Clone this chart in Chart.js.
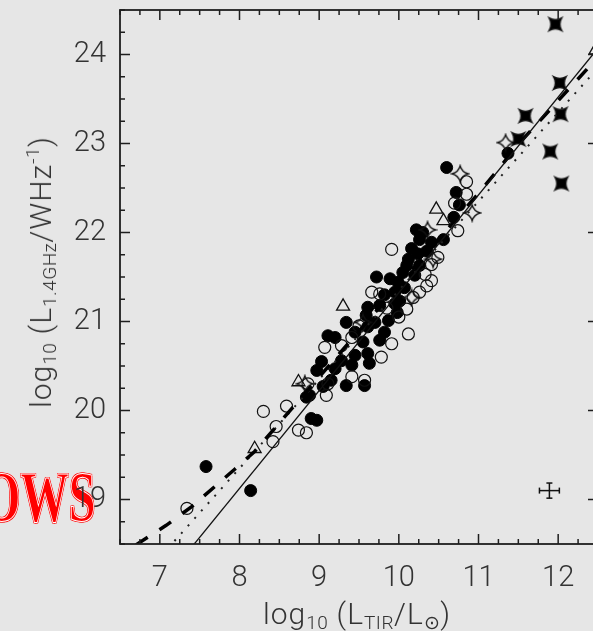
<!DOCTYPE html>
<html>
<head>
<meta charset="utf-8">
<script src="https://cdn.jsdelivr.net/npm/chart.js@4.4.1/dist/chart.umd.min.js"></script>
<style>
  body { margin: 0; background: #e6e6e6; overflow: hidden; }
  #wrap { position: relative; width: 593px; height: 631px; overflow: hidden; }
  #wm {
    position: absolute; left: -17px; top: 461px; z-index: 0;
    font: bold 72px "Liberation Serif", serif; line-height: 72px;
    color: #ff0000; white-space: nowrap;
    transform: scaleX(0.67); transform-origin: left top;
    -webkit-text-stroke: 1px #fff;
    text-shadow: 1px 1px 0 #f00, -1px -1px 0 #f00, 1px -1px 0 #f00, -1px 1px 0 #f00;
  }
  #c { position: absolute; left: 0; top: 0; z-index: 1; }
  .title {
    position: absolute; white-space: nowrap; color: #333; z-index: 2;
    font-family: Roboto, "DejaVu Sans", sans-serif; font-weight: 300;
    font-size: 30px; line-height: 32px; letter-spacing: 1px;
  }
  .title sub, .title sup { font-size: 19px; line-height: 0; letter-spacing: 0.5px; }
  .title sub { vertical-align: -5px; }
  .title sup { vertical-align: 12px; }
  #ytitle { left: 41px; top: 272px; transform: translate(-50%, -50%) rotate(-90deg); }
  #xtitle { left: 357px; top: 614px; transform: translate(-50%, -50%); }
</style>
</head>
<body>
<div id="wrap">
  <div id="wm">OWS</div>
  <canvas id="c" width="640" height="631" style="width:640px;height:631px"></canvas>
  <div class="title" id="ytitle">log<sub>10</sub> (L<sub>1.4GHz</sub>/WHz<sup>-1</sup>)</div>
  <div class="title" id="xtitle">log<sub>10</sub> (L<sub>TIR</sub>/L<sub>⊙</sub>)</div>
</div>
<script>
var xTicks = [7, 8, 9, 10, 11, 12];
var yTicks = [19, 20, 21, 22, 23, 24];
var xRange = [6.5, 12.5];
var yRange = [18.5, 24.5];

var filledCircles = [
  [7.58, 19.37], [8.14, 19.10],
  [8.84, 20.15], [8.90, 19.91], [8.97, 19.89], [8.88, 20.17],
  [8.97, 20.45], [9.03, 20.55], [9.05, 20.27], [9.15, 20.34], [9.11, 20.84], [9.20, 20.82],
  [9.28, 20.56], [9.34, 20.28], [9.41, 20.51], [9.45, 20.88], [9.34, 20.99], [9.55, 20.77],
  [9.57, 20.28], [9.61, 20.64], [9.63, 20.53], [9.61, 20.94], [9.59, 21.07], [9.61, 21.16],
  [9.70, 20.99], [9.76, 20.79], [9.76, 21.18], [9.82, 20.88], [9.87, 21.01], [9.72, 21.50],
  [9.89, 21.48], [9.95, 21.33], [9.99, 21.44], [10.01, 21.23], [9.95, 21.20], [10.07, 21.38],
  [10.10, 21.63], [10.12, 21.70], [10.24, 21.76], [10.26, 21.63], [10.35, 21.79], [10.26, 21.92],
  [10.22, 22.03], [10.41, 21.89], [10.56, 21.92], [10.69, 22.17], [10.76, 22.31], [10.72, 22.45],
  [10.60, 22.73], [11.37, 22.89],
  [9.45, 20.62], [9.20, 20.47], [9.98, 21.10], [10.05, 21.55], [10.16, 21.82], [10.30, 22.00],
  [10.20, 21.52], [9.82, 21.30]
];

var openCircles = [
  [7.34, 18.90], [8.30, 19.99], [8.59, 20.05], [8.46, 19.82], [8.42, 19.65], [8.74, 19.78],
  [8.84, 19.75], [8.86, 20.30], [9.07, 20.71], [9.28, 20.73], [9.09, 20.17], [9.11, 20.30],
  [9.41, 20.82], [9.41, 20.38], [9.57, 20.34], [9.66, 21.33], [9.76, 21.31], [9.78, 20.60],
  [9.91, 20.75], [9.91, 21.81], [10.12, 20.86], [10.10, 21.14], [10.18, 21.27], [10.26, 21.33],
  [10.33, 21.53], [10.41, 21.64], [10.49, 21.72], [10.41, 21.46], [10.74, 22.02], [10.70, 22.33],
  [10.85, 22.43], [10.85, 22.57], [9.50, 20.95], [9.85, 21.15], [10.00, 21.05], [10.35, 21.40]
];

var openTriangles = [
  [10.47, 22.26], [10.56, 22.13], [9.30, 21.17], [8.74, 20.32], [8.19, 19.57], [12.47, 24.05]
];

var openStars = [
  [11.34, 23.01], [10.77, 22.66], [10.92, 22.22], [10.36, 22.03], [10.43, 21.70],
  [10.16, 21.27], [9.55, 20.99], [8.82, 20.30]
];

var filledStars = [
  [11.965, 24.34], [12.02, 23.68], [11.59, 23.31], [12.03, 23.33], [11.50, 23.05],
  [11.90, 22.91], [12.04, 22.55]
];

var solidLine = [[7.35, 18.41], [12.5, 24.07]];
var dashedCurve = [
  [6.70, 18.49], [7.08, 18.71], [7.40, 18.92], [7.94, 19.34], [8.19, 19.54],
  [11.0, 22.44], [11.54, 23.03], [12.07, 23.55], [12.5, 23.97]
];
var dottedLine = [[7.10, 18.45], [12.5, 23.85]];

var errPoint = [11.89, 19.10];
var errHalf = [0.125, 0.085];

function pts(list) {
  return list.map(function (p) { return { x: p[0], y: p[1] }; });
}

// 4-point concave star drawn into a small canvas, used as a point style
function starImage(r, filled, turn, waist) {
  var c = document.createElement('canvas');
  c.width = c.height = 2 * r + 4;
  var g = c.getContext('2d');
  g.translate(r + 2, r + 2);
  g.rotate(turn);
  g.beginPath();
  for (var i = 0; i < 4; i++) {
    var a = i * Math.PI / 2, b = a + Math.PI / 4, n = a + Math.PI / 2;
    if (i === 0) g.moveTo(r * Math.cos(a), r * Math.sin(a));
    g.quadraticCurveTo(r * waist * Math.cos(b), r * waist * Math.sin(b), r * Math.cos(n), r * Math.sin(n));
  }
  g.closePath();
  if (filled) { g.fillStyle = '#000'; g.fill(); }
  g.strokeStyle = '#111'; g.lineWidth = 1.3; g.stroke();
  return c;
}

var tickFont = { family: 'Roboto, "DejaVu Sans", sans-serif', size: 29, weight: '300' };

var frame = {
  id: 'frame',
  afterDatasetsDraw: function (chart) {
    var ctx = chart.ctx, a = chart.chartArea, sx = chart.scales.x, sy = chart.scales.y;
    ctx.save();
    ctx.strokeStyle = '#1e1e1e';
    ctx.lineWidth = 1.8;
    ctx.strokeRect(a.left, a.top, a.right - a.left, a.bottom - a.top);
    ctx.lineWidth = 1.5;
    ctx.beginPath();
    for (var v = xRange[0]; v <= xRange[1] + 1e-9; v += 0.25) {
      var px = sx.getPixelForValue(v);
      var len = Math.abs(v - Math.round(v)) < 1e-6 ? 10 : 5;
      ctx.moveTo(px, a.bottom); ctx.lineTo(px, a.bottom - len);
      ctx.moveTo(px, a.top); ctx.lineTo(px, a.top + len);
    }
    for (var w = yRange[0]; w <= yRange[1] + 1e-9; w += 0.25) {
      var py = sy.getPixelForValue(w);
      var l2 = Math.abs(w - Math.round(w)) < 1e-6 ? 10 : 5;
      ctx.moveTo(a.left, py); ctx.lineTo(a.left + l2, py);
      ctx.moveTo(a.right, py); ctx.lineTo(a.right - l2, py);
    }
    ctx.stroke();
    ctx.restore();
  }
};

var ctx = document.getElementById('c');
var chart = new Chart(ctx, {
  type: 'scatter',
  data: {
    datasets: [
      { data: pts(solidLine), showLine: true, borderColor: '#111', borderWidth: 1.3, pointRadius: 0 },
      { data: pts(dashedCurve), showLine: true, borderColor: '#000', borderWidth: 3.5, borderDash: [14, 14], pointRadius: 0 },
      { data: pts(dottedLine), showLine: true, borderColor: '#222', borderWidth: 2, borderDash: [2, 8], pointRadius: 0 },
      { data: [{ x: errPoint[0] - errHalf[0], y: errPoint[1] }, { x: errPoint[0] + errHalf[0], y: errPoint[1] }],
        showLine: true, borderColor: '#111', borderWidth: 1.5, pointStyle: 'line', pointRotation: 90, pointRadius: 3, pointBorderWidth: 1.5, pointBorderColor: '#111' },
      { data: [{ x: errPoint[0], y: errPoint[1] - errHalf[1] }, { x: errPoint[0], y: errPoint[1] + errHalf[1] }],
        showLine: true, borderColor: '#111', borderWidth: 1.5, pointStyle: 'line', pointRotation: 0, pointRadius: 3, pointBorderWidth: 1.5, pointBorderColor: '#111' },
      { data: pts(filledStars), pointStyle: starImage(9, true, Math.PI / 4, 0.3), pointRadius: 9 },
      { data: pts(openStars), pointStyle: starImage(8, false, 0, 0.3), pointRadius: 8 },
      { data: pts(openTriangles), pointStyle: 'triangle', pointRadius: 7.5, backgroundColor: 'rgba(0,0,0,0)', borderColor: '#111', borderWidth: 1.3 },
      { data: pts(openCircles), pointStyle: 'circle', pointRadius: 6, backgroundColor: 'rgba(0,0,0,0)', borderColor: '#111', borderWidth: 1.2 },
      { data: pts(filledCircles), pointStyle: 'circle', pointRadius: 6, backgroundColor: '#000', borderColor: '#000', borderWidth: 1 }
    ]
  },
  options: {
    responsive: false,
    animation: false,
    layout: { padding: { top: 9, right: 42, left: 0, bottom: 0 } },
    plugins: { legend: { display: false }, tooltip: { enabled: false } },
    scales: {
      x: {
        type: 'linear', min: xRange[0], max: xRange[1],
        grid: { display: false }, border: { display: false },
        ticks: { font: tickFont, color: '#333', padding: 9, maxRotation: 0 },
        afterBuildTicks: function (s) { s.ticks = xTicks.map(function (v) { return { value: v }; }); },
        afterFit: function (s) { s.height = 87; s.paddingLeft = 0; s.paddingRight = 0; }
      },
      y: {
        type: 'linear', min: yRange[0], max: yRange[1],
        grid: { display: false }, border: { display: false },
        ticks: { font: tickFont, color: '#333', padding: 6 },
        afterBuildTicks: function (s) { s.ticks = yTicks.map(function (v) { return { value: v }; }); },
        afterFit: function (s) { s.width = 120; s.paddingTop = 0; s.paddingBottom = 0; }
      }
    }
  },
  plugins: [frame]
});
</script>
</body>
</html>
